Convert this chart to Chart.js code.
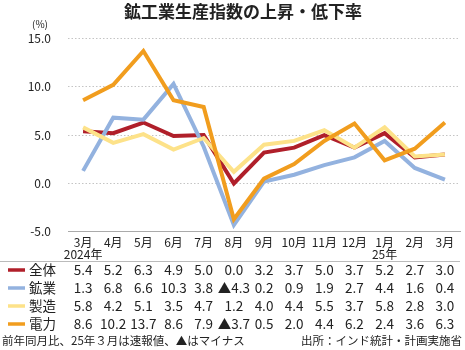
<!DOCTYPE html>
<html>
<head>
<meta charset="utf-8">
<script src="https://cdn.jsdelivr.net/npm/chart.js@4"></script>
<style>
  html, body { margin: 0; padding: 0; background: #fff; }
  #wrap { width: 465px; height: 350px; }
</style>
</head>
<body>
<div id="wrap"><canvas id="myChart" width="465" height="350"></canvas></div>
<script>
// data
var months = ['3月', '4月', '5月', '6月', '7月', '8月', '9月', '10月', '11月', '12月', '1月', '2月', '3月'];
var yearLabels = ['2024年', '', '', '', '', '', '', '', '', '', '25年', '', ''];
var zentai = [5.4, 5.2, 6.3, 4.9, 5.0, 0.0, 3.2, 3.7, 5.0, 3.7, 5.2, 2.7, 3.0];
var kogyo = [1.3, 6.8, 6.6, 10.3, 3.8, -4.3, 0.2, 0.9, 1.9, 2.7, 4.4, 1.6, 0.4];
var seizo = [5.8, 4.2, 5.1, 3.5, 4.7, 1.2, 4.0, 4.4, 5.5, 3.7, 5.8, 2.8, 3.0];
var denryoku = [8.6, 10.2, 13.7, 8.6, 7.9, -3.7, 0.5, 2.0, 4.4, 6.2, 2.4, 3.6, 6.3];
var seriesNames = ['全体', '鉱業', '製造', '電力'];
var seriesColors = ['#b01f2a', '#93b2df', '#fde289', '#f19d1e'];
var yTicks = [-5, 0, 5, 10, 15];

var FONT = '"Noto Sans CJK JP", "Noto Sans", sans-serif';

function fmt(v) {
    return v < 0 ? '▲' + Math.abs(v).toFixed(1) : v.toFixed(1);
}

// value table, unit label, years and notes under the plot
var tablePlugin = {
    id: 'table',
    afterDraw: function(chart) {
        var ctx = chart.ctx;
        var x = chart.scales.x;
        var area = chart.chartArea;
        var rows = [zentai, kogyo, seizo, denryoku];
        var rowY = [270, 288, 306, 324];
        ctx.save();
        ctx.fillStyle = '#222';
        ctx.font = '10px ' + FONT;
        ctx.textAlign = 'center';
        ctx.textBaseline = 'middle';
        ctx.fillText('(%)', 40, 24);
        ctx.font = '12px ' + FONT;
        for (var k = 0; k < yearLabels.length; k++) {
            if (yearLabels[k]) ctx.fillText(yearLabels[k], x.getPixelForValue(k), 254);
        }
        ctx.strokeStyle = '#bbb';
        ctx.lineWidth = 1;
        ctx.beginPath();
        ctx.moveTo(0, 261.5);
        ctx.lineTo(area.right, 261.5);
        ctx.stroke();
        for (var r = 0; r < rows.length; r++) {
            var y = rowY[r];
            ctx.strokeStyle = seriesColors[r];
            ctx.lineWidth = 3.5;
            ctx.beginPath();
            ctx.moveTo(8, y);
            ctx.lineTo(25, y);
            ctx.stroke();
            ctx.fillStyle = '#222';
            ctx.font = '13.5px ' + FONT;
            ctx.textAlign = 'left';
            ctx.fillText(seriesNames[r], 29, y);
            ctx.textAlign = 'center';
            for (var i = 0; i < rows[r].length; i++) {
                ctx.fillText(fmt(rows[r][i]), x.getPixelForValue(i), y);
            }
        }
        ctx.font = '11.5px ' + FONT;
        ctx.textAlign = 'left';
        ctx.fillText('前年同月比、25年３月は速報値、▲はマイナス', 2, 341);
        ctx.textAlign = 'right';
        ctx.fillText('出所：インド統計・計画実施省', 462, 341);
        ctx.restore();
    }
};

var datasets = [zentai, kogyo, seizo, denryoku].map(function(d, i) {
    return {
        label: seriesNames[i],
        data: d,
        borderColor: seriesColors[i],
        backgroundColor: seriesColors[i],
        borderWidth: 4,
        pointRadius: 0,
        tension: 0,
        order: [4, 3, 2, 1][i]
    };
});

var ctx = document.getElementById('myChart');
var myChart = new Chart(ctx, {
    type: 'line',
    data: { labels: months, datasets: datasets },
    plugins: [tablePlugin],
    options: {
        responsive: false,
        animation: false,
        layout: { padding: { left: 26, right: 5, top: 0, bottom: 97 } },
        plugins: {
            legend: { display: false },
            tooltip: { enabled: false },
            title: {
                display: true,
                text: '鉱工業生産指数の上昇・低下率',
                color: '#222',
                font: { family: FONT, size: 17, weight: 'bold' },
                padding: { top: 1, bottom: 17 }
            }
        },
        scales: {
            x: {
                offset: true,
                grid: { display: false, drawTicks: false },
                border: { display: true, color: '#aaa', width: 1 },
                ticks: {
                    color: '#222',
                    font: { family: FONT, size: 12, lineHeight: 1.1 },
                    padding: 4,
                    maxRotation: 0,
                    autoSkip: false
                }
            },
            y: {
                min: -5,
                max: 15,
                afterBuildTicks: function(axis) {
                    axis.ticks = yTicks.map(function(v) { return { value: v }; });
                },
                afterFit: function(axis) { axis.width = 42; },
                grid: {
                    drawTicks: false,
                    color: function(c) { return c.tick && c.tick.value === -5 ? 'rgba(0,0,0,0)' : '#c4c4c4'; }
                },
                border: { display: false, dash: [1.5, 2] },
                ticks: {
                    color: '#222',
                    padding: 17,
                    font: { family: FONT, size: 12 },
                    callback: function(v) { return Number(v).toFixed(1); }
                }
            }
        }
    }
});
</script>
</body>
</html>
